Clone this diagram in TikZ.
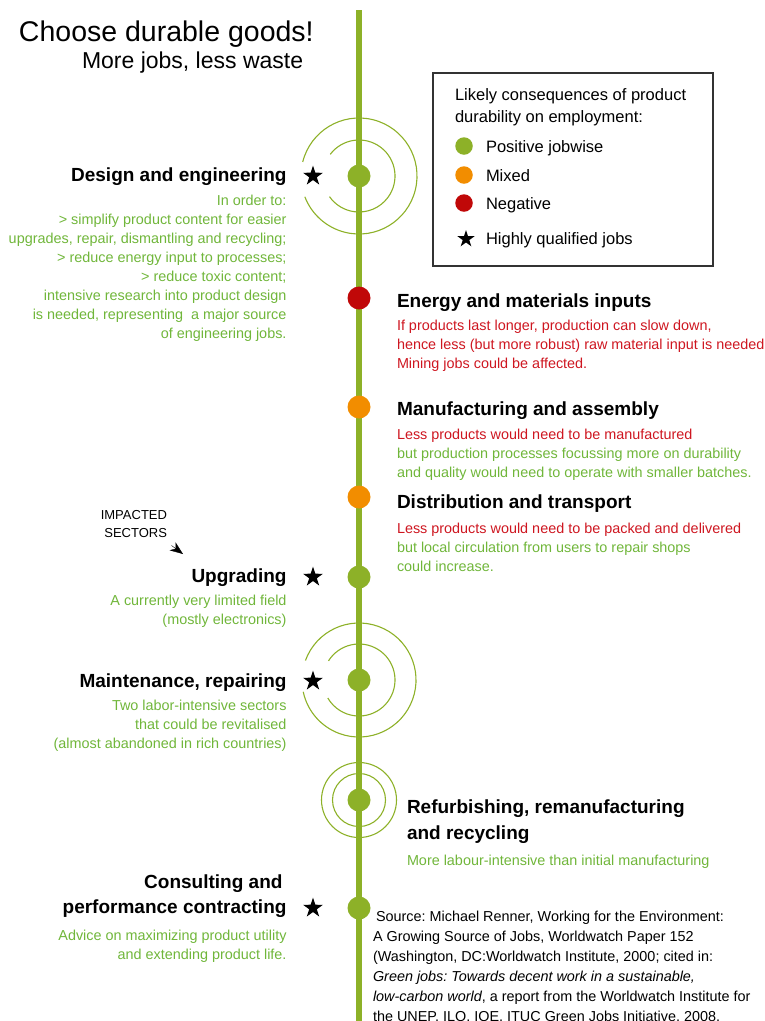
\documentclass[tikz,border=0pt]{standalone}
\usepackage{fontspec}
\setmainfont{Liberation Sans}
\usepackage{xcolor}
\usetikzlibrary{arrows.meta, positioning, shapes.geometric}
\frenchspacing

\definecolor{linegreen}{RGB}{141,177,40}
\definecolor{textgreen}{RGB}{112,182,58}
\definecolor{textred}{RGB}{206,22,32}
\definecolor{dotred}{RGB}{192,8,8}
\definecolor{dotorange}{RGB}{242,141,0}

\begin{document}
\begin{tikzpicture}[
  x=1pt, y=-1pt,
  every node/.style={inner sep=0pt, outer sep=0pt},
  stage/.style={circle, minimum size=23pt},
  good/.style={stage, fill=linegreen},
  mixed/.style={stage, fill=dotorange},
  bad/.style={stage, fill=dotred},
  qualified/.style={star, star points=5, star point ratio=2.6, fill=black,
                    minimum size=21pt},
  headl/.style={font=\fontsize{19}{25}\selectfont\bfseries, anchor=base east},
  headr/.style={font=\fontsize{19}{26}\selectfont\bfseries, anchor=base west},
  bodyl/.style={font=\fontsize{14.4}{19}\selectfont, anchor=north east,
                align=right, text=textgreen},
  bodyr/.style={font=\fontsize{14.4}{19}\selectfont, anchor=north west,
                align=left, text=textgreen},
  legtext/.style={font=\fontsize{16.5}{21.7}\selectfont, anchor=base west},
  legdot/.style={circle, minimum size=17.5pt},
  ripple/.style={linegreen, line width=1.1pt},
]
\useasboundingbox (0,0) rectangle (764,1021);

\node[font=\fontsize{28.5}{34}\selectfont, anchor=base west] (title) at (19,41) {Choose durable goods!};
\node[font=\fontsize{23}{28}\selectfont, anchor=base west] (subtitle) at (82,68) {More jobs, less waste};

\node[draw=black!80, line width=1.2pt, minimum width=280pt, minimum height=193pt,
      anchor=north west] (legendbox) at (433,73) {};
\node[legtext] (legtitle) at (455,100.8) {Likely consequences of product};
\node[legtext] (legtitleb) at (455,122.5) {durability on employment:};
\node[legdot, fill=linegreen] (legpos) at (464,146) {};
\node[legdot, fill=dotorange] (legmix) at (464,175) {};
\node[legdot, fill=dotred]    (legneg) at (464,203) {};
\node[qualified, minimum size=18pt] (legstar) at (466,239) {};
\node[legtext] (legposlbl) at (486,152.4) {Positive jobwise};
\node[legtext] (legmixlbl) at (486,181) {Mixed};
\node[legtext] (legneglbl) at (486,209.4) {Negative};
\node[legtext] (legstarlbl) at (486,244) {Highly qualified jobs};

\coordinate (spinetop) at (359,10);
\coordinate (spinebottom) at (359,1021);
\coordinate (designc) at (359,176);
\coordinate (maintc) at (359,680);
\coordinate (refurbc) at (359,800);

\draw[ripple] (designc) ++(194:58) arc[start angle=194, end angle=519, radius=58];
\draw[ripple] (designc) ++(217:36) arc[start angle=217, end angle=505, radius=36];
\draw[ripple] (maintc) ++(200:57) arc[start angle=200, end angle=528, radius=57];
\draw[ripple] (maintc) ++(212:36) arc[start angle=212, end angle=510, radius=36];
\draw[ripple] (refurbc) circle[radius=37.5];
\draw[ripple] (refurbc) circle[radius=26.5];

\draw[linegreen, line width=5.5pt] (spinetop) -- (spinebottom);

\node[good]  (design)  at (designc) {};
\node[bad]   (energy)  at (359,298) {};
\node[mixed] (manuf)   at (359,407) {};
\node[mixed] (distrib) at (359,497) {};
\node[good]  (upgrade) at (359,577) {};
\node[good]  (maint)   at (maintc) {};
\node[good]  (refurb)  at (refurbc) {};
\node[good]  (consult) at (359,908) {};

\node[qualified] (designstar)  at (313,176) {};
\node[qualified] (upgradestar) at (313,577) {};
\node[qualified] (maintstar)   at (313,681) {};
\node[qualified] (consultstar) at (313,908) {};

\node[headl] (designhead) at (286.5,181) {Design and engineering};
\node[bodyl] (designtext) at (286.5,195) {In order to:\\
  > simplify product content for easier\\
  upgrades, repair, dismantling and recycling;\\
  > reduce energy input to processes;\\
  > reduce toxic content;\\
  intensive research into product design\\
  is needed, representing~ a major source\\
  of engineering jobs.};

\node[headr] (energyhead) at (397,307) {Energy and materials inputs};
\node[bodyr, text=textred] (energytext) at (397,319.6)
  {If products last longer, production can slow down,\\
   hence less (but more robust) raw material input is needed\\
   Mining jobs could be affected.};

\node[headr] (manufhead) at (397,415.3) {Manufacturing and assembly};
\node[bodyr] (manuftext) at (397,429.3)
  {\textcolor{textred}{Less products would need to be manufactured}\\
   but production processes focussing more on durability\\
   and quality would need to operate with smaller batches.};

\node[headr] (distribhead) at (397,508.7) {Distribution and transport};
\node[bodyr] (distribtext) at (397,523.3)
  {\textcolor{textred}{Less products would need to be packed and delivered}\\
   but local circulation from users to repair shops\\
   could increase.};

\node[font=\fontsize{13}{18}\selectfont, anchor=north east, align=right] (impacted)
  at (167,510.7) {IMPACTED\\SECTORS};
\coordinate (impfrom) at (171.5,545.5);
\coordinate (impto) at (183,554);
\draw[-{Stealth[length=13pt, width=10pt, inset=4pt]}, line width=0.4pt] (impfrom) -- (impto);

\node[headl] (upgradehead) at (286.5,582) {Upgrading};
\node[bodyl] (upgradetext) at (286.5,595)
  {A currently very limited field\\(mostly electronics)};

\node[headl] (mainthead) at (286.5,687) {Maintenance, repairing};
\node[bodyl] (mainttext) at (286.5,700.5)
  {Two labor-intensive sectors\\that could be revitalised\\(almost abandoned in rich countries)};

\node[headr] (refurbhead) at (407,813) {Refurbishing, remanufacturing};
\node[headr] (refurbheadb) at (407,839) {and recycling};
\node[bodyr, anchor=base west] (refurbtext) at (407,865.5)
  {More labour-intensive than initial manufacturing};

\node[headl] (consulthead) at (286.5,888.7) {Consulting and\hspace*{4pt}};
\node[headl] (consultheadb) at (286.5,913.7) {performance contracting};
\node[bodyl] (consulttext) at (286.5,930.5)
  {Advice on maximizing product utility\\and extending product life.};

\node[font=\fontsize{14.4}{19.9}\selectfont, anchor=north west, align=left] (source)
  at (373,911.5)
  {\hspace*{3pt}Source: Michael Renner, Working for the Environment:\\
   A Growing Source of Jobs, Worldwatch Paper 152\\
   (Washington, DC:Worldwatch Institute, 2000; cited in:\\
   \textit{Green jobs: Towards decent work in a sustainable,}\\
   \textit{low-carbon world}, a report from the Worldwatch Institute for\\
   the UNEP, ILO, IOE, ITUC Green Jobs Initiative, 2008.};
\end{tikzpicture}
\end{document}
